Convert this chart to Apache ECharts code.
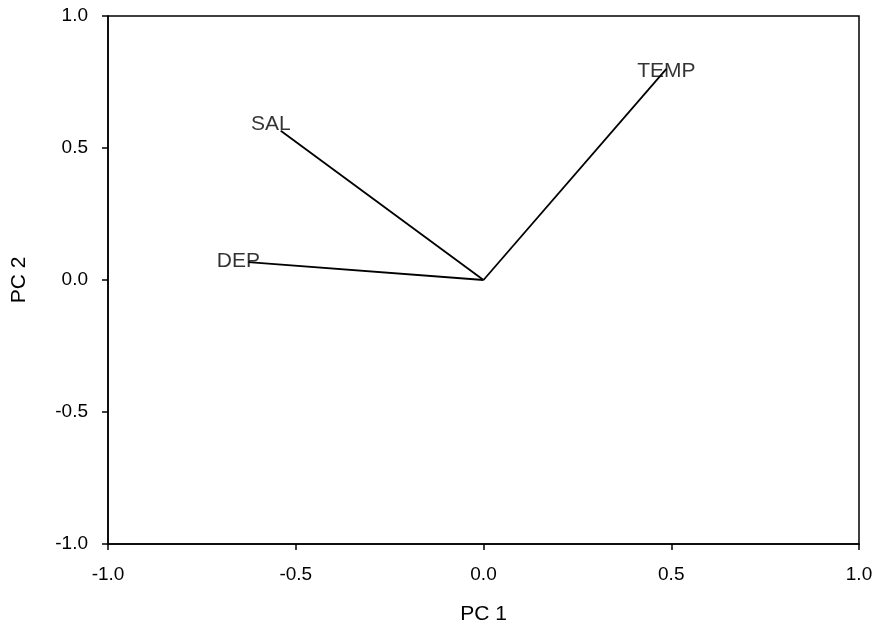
<!DOCTYPE html>
<html>
<head>
<meta charset="utf-8">
<script src="https://cdn.jsdelivr.net/npm/echarts@6/dist/echarts.min.js"></script>
<style>
html,body{margin:0;padding:0;background:#fff;}
#chart{width:879px;height:636px;}
</style>
</head>
<body>
<div id="chart"></div>
<script>
// PCA loading vectors (PC 1, PC 2)
const variables = ['TEMP', 'SAL', 'DEP'];
const pc1 = [0.487, -0.54, -0.626];
const pc2 = [0.80, 0.565, 0.068];
const tickValues = [-1.0, -0.5, 0.0, 0.5, 1.0];

const labelOffsets = {TEMP: [0, 2], SAL: [-10, -7], DEP: [-10, -1]};

const chart = echarts.init(document.getElementById('chart'));
const font = 'Liberation Sans, Arial, sans-serif';

const lineSeries = variables.map((v, i) => ({
  type: 'line',
  name: v,
  data: [[0, 0], [pc1[i], pc2[i]]],
  symbol: 'none',
  lineStyle: {color: '#000', width: 1.8},
  silent: true
}));

const labelSeries = {
  type: 'scatter',
  symbolSize: 0,
  data: variables.map((v, i) => ({
    value: [pc1[i], pc2[i]],
    name: v,
    label: {
      show: true,
      position: 'inside',
      offset: labelOffsets[v],
      formatter: v,
      color: '#000',
      fontSize: 21,
      fontFamily: font
    }
  })),
  silent: true
};

const axisCommon = {
  type: 'value',
  min: tickValues[0],
  max: tickValues[tickValues.length - 1],
  interval: tickValues[1] - tickValues[0],
  nameLocation: 'middle',
  nameTextStyle: {color: '#000', fontSize: 21, fontFamily: font},
  axisLine: {show: true, onZero: false, lineStyle: {color: '#000', width: 1.5}},
  axisTick: {show: true, inside: false, length: 6, lineStyle: {color: '#000', width: 1.5}},
  axisLabel: {color: '#000', fontSize: 19, fontFamily: font, formatter: v => v.toFixed(1)},
  splitLine: {show: false}
};

chart.setOption({
  animation: false,
  backgroundColor: '#fff',
  grid: {left: 108, right: 20, top: 16, bottom: 92, show: true, borderColor: '#000', borderWidth: 1.5},
  xAxis: Object.assign({}, axisCommon, {
    name: 'PC 1', nameGap: 60,
    axisLabel: Object.assign({}, axisCommon.axisLabel, {margin: 21})
  }),
  yAxis: Object.assign({}, axisCommon, {
    name: 'PC 2', nameGap: 78,
    axisLabel: Object.assign({}, axisCommon.axisLabel, {margin: 20})
  }),
  series: [...lineSeries, labelSeries]
});
</script>
</body>
</html>
